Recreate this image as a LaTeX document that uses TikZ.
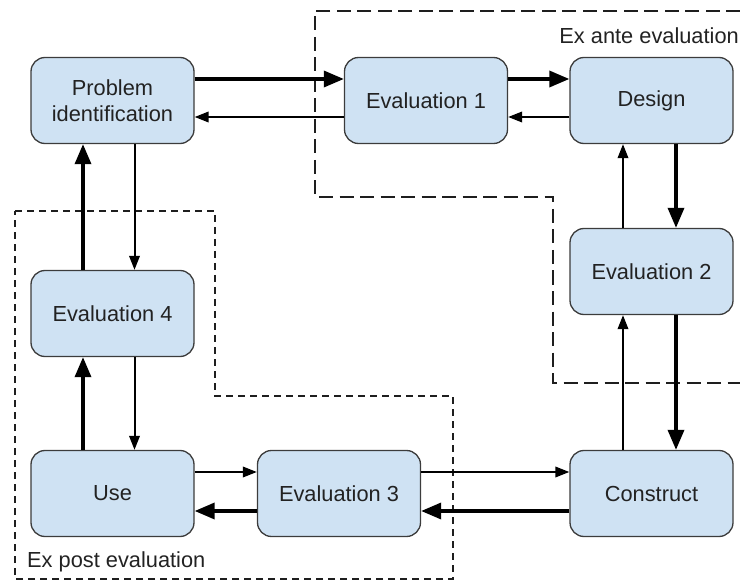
\documentclass[tikz,border=0pt]{standalone}
\usepackage{fontspec}
\setmainfont{Liberation Sans}
\usetikzlibrary{arrows.meta}
\definecolor{boxfill}{RGB}{207,226,243}
\definecolor{boxline}{RGB}{60,60,60}
\definecolor{inktext}{RGB}{34,34,34}
\definecolor{regionline}{RGB}{30,30,30}
\tikzset{
  stage/.style={draw=boxline, fill=boxfill, line width=1.3pt, rounded corners=14pt,
    minimum width=163pt, minimum height=86pt, inner sep=0pt, align=center,
    text=inktext, font=\fontsize{21.8}{26}\selectfont},
  heavy/.style={draw=black, line width=3.4pt, -{Triangle[length=20pt,width=16pt]}},
  light/.style={draw=black, line width=2pt, -{Triangle[length=14pt,width=10.5pt]}},
  antebox/.style={draw=regionline, line width=2.5pt, dash pattern=on 14pt off 6.5pt},
  postbox/.style={draw=regionline, line width=2.2pt, dash pattern=on 7pt off 5pt},
  regionlabel/.style={text=inktext, font=\fontsize{21.8}{26}\selectfont, inner sep=0pt}
}
\begin{document}
\begin{tikzpicture}[x=1pt, y=-1pt]
\useasboundingbox (0,0) rectangle (740,583);

% evaluation regions
\draw[antebox] (740,11) -- (315,11) -- (315,197) -- (553,197) -- (553,383) -- (740,383);
\draw[postbox] (15,211) -- (215,211) -- (215,396) -- (453,396) -- (453,579) -- (15,579) -- cycle;
\node[regionlabel, anchor=east] (antelbl) at (739,36) {Ex ante evaluation};
\node[regionlabel, anchor=west] (postlbl) at (27,562) {Ex post evaluation};

% process stages
\node[stage] (pid) at (112.5,100.5) {Problem\\identification};
\node[stage] (e1)  at (426,100.5) {Evaluation 1};
\node[stage] (des) at (651.5,100.5) {Design};
\node[stage] (e2)  at (651.5,271.5) {Evaluation 2};
\node[stage] (e4)  at (112.5,313.5) {Evaluation 4};
\node[stage] (use) at (112.5,493.5) {Use};
\node[stage] (e3)  at (339,493.5) {Evaluation 3};
\node[stage] (con) at (651.5,493.5) {Construct};

% top row
\draw[heavy] ([yshift=21.5pt]pid.east) -- ([yshift=21.5pt]e1.west);
\draw[light] ([yshift=-16.5pt]e1.west) -- ([yshift=-16.5pt]pid.east);
\draw[heavy] ([yshift=21.5pt]e1.east) -- ([yshift=21.5pt]des.west);
\draw[light] ([yshift=-16.5pt]des.west) -- ([yshift=-16.5pt]e1.east);

% right column
\draw[heavy] ([xshift=24.5pt]des.south) -- ([xshift=24.5pt]e2.north);
\draw[light] ([xshift=-28.5pt]e2.north) -- ([xshift=-28.5pt]des.south);
\draw[heavy] ([xshift=24.5pt]e2.south) -- ([xshift=24.5pt]con.north);
\draw[light] ([xshift=-28.5pt]con.north) -- ([xshift=-28.5pt]e2.south);

% bottom row
\draw[heavy] ([yshift=-17.5pt]con.west) -- ([yshift=-17.5pt]e3.east);
\draw[light] ([yshift=21.5pt]e3.east) -- ([yshift=21.5pt]con.west);
\draw[heavy] ([yshift=-17.5pt]e3.west) -- ([yshift=-17.5pt]use.east);
\draw[light] ([yshift=21.5pt]use.east) -- ([yshift=21.5pt]e3.west);

% left column
\draw[heavy] ([xshift=-29.5pt]use.north) -- ([xshift=-29.5pt]e4.south);
\draw[light] ([xshift=22pt]e4.south) -- ([xshift=22pt]use.north);
\draw[heavy] ([xshift=-29.5pt]e4.north) -- ([xshift=-29.5pt]pid.south);
\draw[light] ([xshift=22pt]pid.south) -- ([xshift=22pt]e4.north);
\end{tikzpicture}
\end{document}
